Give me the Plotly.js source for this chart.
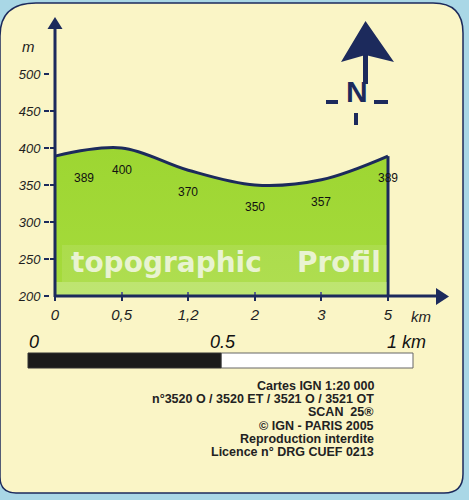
<!DOCTYPE html>
<html>
<head>
<meta charset="utf-8">
<script src="https://cdn.plot.ly/plotly-3.0.1.min.js"></script>
<style>html,body{margin:0;padding:0;background:#a9d7e6;}#chart{width:469px;height:500px;}</style>
</head>
<body>
<div id="chart"></div>
<script>
// ---- data ----
const distances = ["0", "0,5", "1,2", "2", "3", "5"];
const altitudes = [389, 400, 370, 350, 357, 389];
const altitudeLabels = ["389", "400", "370", "350", "357", "389"];
const yTicks = [200, 250, 300, 350, 400, 450, 500];
const scaleLabels = ["0", "0.5", "1 km"];
const titleWords = ["topographic", "Profil"];
const infoLines = [
  "Cartes IGN 1:20 000",
  "n°3520 O / 3520 ET / 3521 O / 3521 OT",
  "SCAN  25®",
  "© IGN - PARIS 2005",
  "Reproduction interdite",
  "Licence n° DRG CUEF 0213"
];

// ---- helpers (pixel -> paper) ----
const W = 469, H = 500;
const px = x => x / W;
const py = y => 1 - y / H;
const pth = s => s.replace(/(-?[\d.]+),(-?[\d.]+)/g, (m, a, b) => px(+a) + ',' + py(+b));
const NAVY = '#1c2a5c';
const yMin = yTicks[0], yMax = yTicks[yTicks.length - 1];
const last = distances.length - 1;
const idx = distances.map((d, i) => i);

const traces = [
  {
    x: distances, y: altitudes, type: 'scatter', mode: 'lines',
    line: {shape: 'spline', smoothing: 1, color: NAVY, width: 3},
    fill: 'tozeroy',
    fillgradient: {type: 'vertical', colorscale: [[0, '#c2e66c'], [0.5, '#a6db3c'], [1, '#9dd632']]},
    hoverinfo: 'skip', showlegend: false
  },
  {
    x: [distances[last], distances[last]], y: [altitudes[last], yMin],
    type: 'scatter', mode: 'lines', line: {color: NAVY, width: 3},
    hoverinfo: 'skip', showlegend: false
  },
  {
    x: distances, y: altitudes, xaxis: 'x2', yaxis: 'y2', type: 'scatter', mode: 'markers',
    marker: {opacity: 0}, hoverinfo: 'skip', showlegend: false
  }
];

const xr = [-0.075, last + 0.075];
const FONT = 'Liberation Sans, Arial, sans-serif';
const tickFontY = {family: FONT, size: 13, color: '#1e1e1e', style: 'italic'};
const tickFontX = {family: FONT, size: 15, color: '#1e1e1e', style: 'italic'};

function paperText(x, y, text, font, xa, ya) {
  return {x: px(x), y: py(y), xref: 'paper', yref: 'paper', text: text, showarrow: false,
    xanchor: xa || 'center', yanchor: ya || 'middle', font: font};
}

const annotations = [];
altitudeLabels.forEach((t, i) => {
  annotations.push({x: idx[i], y: altitudes[i], xref: 'x', yref: 'y', text: t, showarrow: false,
    xanchor: 'center', yanchor: 'middle',
    yshift: -22, xshift: i === 0 ? 29 : 0,
    font: {family: FONT, size: 12, color: '#111'}});
});
const titleFont = {family: 'DejaVu Sans, sans-serif', size: 28, weight: 'bold', color: 'rgba(242,247,228,0.88)'};
annotations.push(paperText(166, 262, titleWords[0], titleFont));
annotations.push(paperText(339, 262, titleWords[1], titleFont));
annotations.push(paperText(28, 47, '<i>m</i>', {family: FONT, size: 15, color: '#1e1e1e'}));
annotations.push(paperText(421, 316, '<i>km</i>', {family: FONT, size: 15, color: '#1e1e1e'}));
annotations.push(paperText(357, 92, '<b>N</b>', {family: FONT, size: 30, color: NAVY}));
// scale bar labels
const scaleX = [27, 223, 428], scaleAnchor = ['left', 'center', 'right'];
scaleLabels.forEach((t, i) => annotations.push(paperText(scaleX[i], 342, '<i>' + t + '</i>',
  {family: FONT, size: 18, color: '#111'}, scaleAnchor[i])));
// info block
infoLines.forEach((t, i) => annotations.push(paperText(376, 386 + i * 13.2, '<b>' + t + '</b>',
  {family: FONT, size: 12.5, color: '#222'}, 'right')));

const shapes = [
  // card
  {type: 'path', xref: 'paper', yref: 'paper', layer: 'below',
   path: pth('M 0,36 Q 0,3 36,3 L 433,3 Q 463,3 463,33 L 463,474 Q 463,493 444,493 L 16,493 Q 0,493 0,477 Z'),
   fillcolor: '#faf5c6', line: {color: NAVY, width: 1.5}},
  // bands behind title
  {type: 'rect', xref: 'paper', yref: 'paper', layer: 'above', x0: px(62), x1: px(387), y0: py(282), y1: py(245),
   fillcolor: 'rgba(255,255,255,0.10)', line: {width: 0}},
  {type: 'rect', xref: 'paper', yref: 'paper', layer: 'above', x0: px(56), x1: px(387), y0: py(295), y1: py(282),
   fillcolor: 'rgba(255,255,255,0.28)', line: {width: 0}},
  // y axis + arrow
  {type: 'line', xref: 'paper', yref: 'paper', x0: px(55), x1: px(55), y0: py(297), y1: py(27), line: {color: NAVY, width: 3}},
  {type: 'path', xref: 'paper', yref: 'paper', path: pth('M 47.5,29 L 62.5,29 L 55,17 Z'), fillcolor: NAVY, line: {width: 0}},
  // x axis + arrow
  {type: 'line', xref: 'paper', yref: 'paper', x0: px(54), x1: px(438), y0: py(296), y1: py(296), line: {color: NAVY, width: 3}},
  {type: 'path', xref: 'paper', yref: 'paper', path: pth('M 436,288 L 436,305 L 449,296.5 Z'), fillcolor: NAVY, line: {width: 0}},
  // north arrow
  {type: 'path', xref: 'paper', yref: 'paper', path: pth('M 365.5,21 L 394,62 L 365.5,55 L 341,62 Z'), fillcolor: NAVY, line: {width: 0}},
  {type: 'line', xref: 'paper', yref: 'paper', x0: px(365.5), x1: px(365.5), y0: py(55), y1: py(84), line: {color: NAVY, width: 5}},
  {type: 'line', xref: 'paper', yref: 'paper', x0: px(326), x1: px(338), y0: py(102), y1: py(102), line: {color: NAVY, width: 4}},
  {type: 'line', xref: 'paper', yref: 'paper', x0: px(374), x1: px(388), y0: py(102), y1: py(102), line: {color: NAVY, width: 4}},
  {type: 'line', xref: 'paper', yref: 'paper', x0: px(356), x1: px(356), y0: py(113), y1: py(125), line: {color: NAVY, width: 4}},
  // scale bar
  {type: 'rect', xref: 'paper', yref: 'paper', x0: px(221), x1: px(413), y0: py(368), y1: py(353), fillcolor: '#ffffff', line: {color: '#666', width: 1}},
  {type: 'rect', xref: 'paper', yref: 'paper', x0: px(28), x1: px(221), y0: py(368), y1: py(353), fillcolor: '#1b1b1b', line: {color: '#333', width: 1}}
];

const layout = {
  width: W, height: H,
  margin: {l: 0, r: 0, t: 0, b: 0},
  paper_bgcolor: '#a9d7e6', plot_bgcolor: 'rgba(0,0,0,0)',
  showlegend: false,
  xaxis: {type: 'category', domain: [px(50), px(393)], range: xr, showgrid: false, zeroline: false, showline: false,
    ticks: 'outside', ticklen: 4, tickwidth: 2, tickcolor: NAVY, tickfont: tickFontX, ticklabelstandoff: 1, fixedrange: true},
  yaxis: {domain: [py(296), py(74)], range: [yMin, yMax], tickmode: 'array', tickvals: yTicks,
    ticktext: yTicks.map(v => '<i>' + v + '</i>'), showgrid: false, zeroline: false, showline: false,
    ticks: 'outside', ticklen: 5, tickwidth: 2, tickcolor: NAVY, tickfont: tickFontY, ticklabelstandoff: 1, fixedrange: true},
  xaxis2: {type: 'category', overlaying: 'x', domain: [px(50), px(393)], range: xr, showgrid: false, zeroline: false,
    showline: false, ticks: 'inside', ticklen: 4, tickwidth: 2, tickcolor: NAVY, showticklabels: false, anchor: 'y2', side: 'bottom'},
  yaxis2: {overlaying: 'y', domain: [py(296), py(74)], range: [yMin, yMax], tickvals: yTicks, showgrid: false, zeroline: false,
    showline: false, ticks: 'inside', ticklen: 5, tickwidth: 2, tickcolor: NAVY, showticklabels: false, anchor: 'x2', side: 'left'},
  shapes: shapes,
  annotations: annotations
};

Plotly.newPlot('chart', traces, layout, {displayModeBar: false, staticPlot: true});
</script>
</body>
</html>
